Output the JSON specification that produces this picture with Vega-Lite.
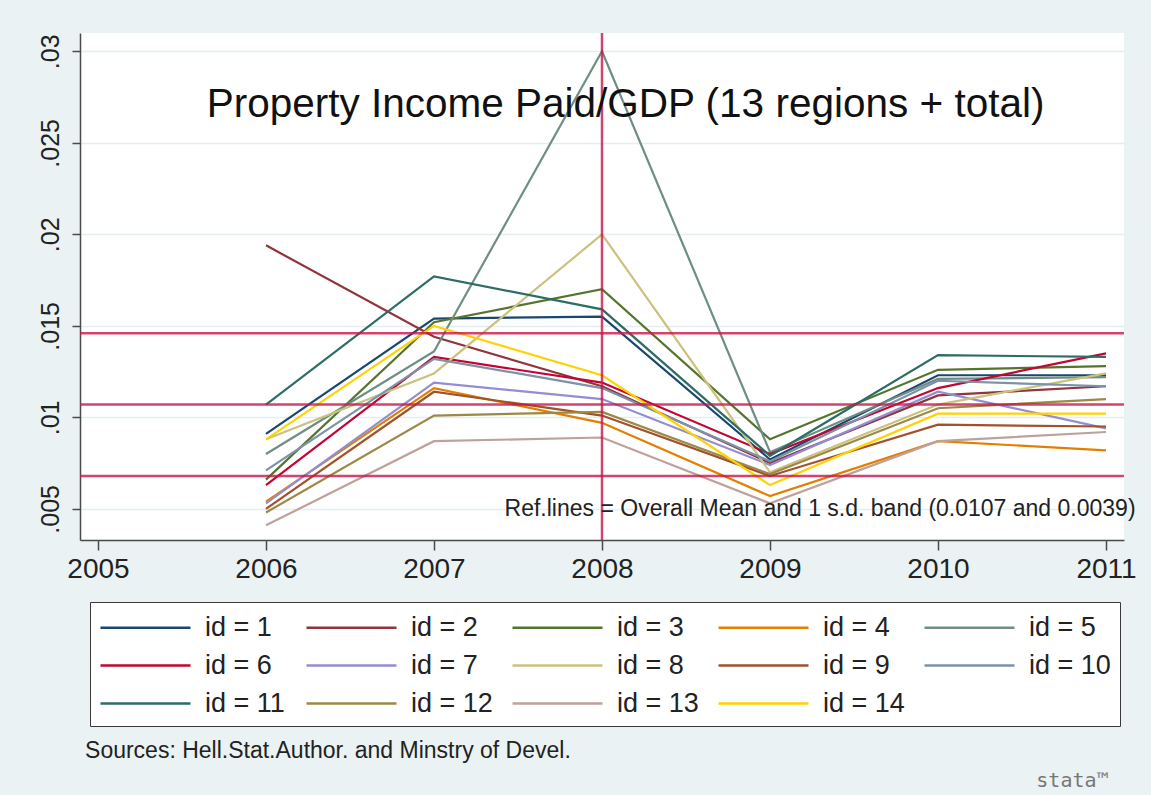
{
  "$schema": "https://vega.github.io/schema/vega-lite/v6.json",
  "width": 1044,
  "height": 507,
  "autosize": {"type": "none"},
  "padding": {"left": 80, "top": 33, "right": 27, "bottom": 255},
  "background": "#eaf2f3",
  "config": {
    "view": {"fill": "white", "stroke": null},
    "font": "Liberation Sans"
  },
  "datasets": {
    "series": [
      {"region": "id = 1", "year": 2006, "v": 0.0091}, {"region": "id = 1", "year": 2007, "v": 0.0154}, {"region": "id = 1", "year": 2008, "v": 0.0155}, {"region": "id = 1", "year": 2009, "v": 0.0077}, {"region": "id = 1", "year": 2010, "v": 0.0123}, {"region": "id = 1", "year": 2011, "v": 0.0123},
      {"region": "id = 2", "year": 2006, "v": 0.0194}, {"region": "id = 2", "year": 2007, "v": 0.0144}, {"region": "id = 2", "year": 2008, "v": 0.0117}, {"region": "id = 2", "year": 2009, "v": 0.0075}, {"region": "id = 2", "year": 2010, "v": 0.0112}, {"region": "id = 2", "year": 2011, "v": 0.0117},
      {"region": "id = 3", "year": 2006, "v": 0.0066}, {"region": "id = 3", "year": 2007, "v": 0.0152}, {"region": "id = 3", "year": 2008, "v": 0.0170}, {"region": "id = 3", "year": 2009, "v": 0.0088}, {"region": "id = 3", "year": 2010, "v": 0.0126}, {"region": "id = 3", "year": 2011, "v": 0.0128},
      {"region": "id = 4", "year": 2006, "v": 0.0054}, {"region": "id = 4", "year": 2007, "v": 0.0116}, {"region": "id = 4", "year": 2008, "v": 0.0097}, {"region": "id = 4", "year": 2009, "v": 0.0057}, {"region": "id = 4", "year": 2010, "v": 0.0087}, {"region": "id = 4", "year": 2011, "v": 0.0082},
      {"region": "id = 5", "year": 2006, "v": 0.0080}, {"region": "id = 5", "year": 2007, "v": 0.0136}, {"region": "id = 5", "year": 2008, "v": 0.0300}, {"region": "id = 5", "year": 2009, "v": 0.0081}, {"region": "id = 5", "year": 2010, "v": 0.0121}, {"region": "id = 5", "year": 2011, "v": 0.0122},
      {"region": "id = 6", "year": 2006, "v": 0.0063}, {"region": "id = 6", "year": 2007, "v": 0.0133}, {"region": "id = 6", "year": 2008, "v": 0.0119}, {"region": "id = 6", "year": 2009, "v": 0.0080}, {"region": "id = 6", "year": 2010, "v": 0.0116}, {"region": "id = 6", "year": 2011, "v": 0.0135},
      {"region": "id = 7", "year": 2006, "v": 0.0053}, {"region": "id = 7", "year": 2007, "v": 0.0119}, {"region": "id = 7", "year": 2008, "v": 0.0110}, {"region": "id = 7", "year": 2009, "v": 0.0074}, {"region": "id = 7", "year": 2010, "v": 0.0114}, {"region": "id = 7", "year": 2011, "v": 0.0094},
      {"region": "id = 8", "year": 2006, "v": 0.0088}, {"region": "id = 8", "year": 2007, "v": 0.0124}, {"region": "id = 8", "year": 2008, "v": 0.0200}, {"region": "id = 8", "year": 2009, "v": 0.0070}, {"region": "id = 8", "year": 2010, "v": 0.0107}, {"region": "id = 8", "year": 2011, "v": 0.0124},
      {"region": "id = 9", "year": 2006, "v": 0.0050}, {"region": "id = 9", "year": 2007, "v": 0.0114}, {"region": "id = 9", "year": 2008, "v": 0.0101}, {"region": "id = 9", "year": 2009, "v": 0.0068}, {"region": "id = 9", "year": 2010, "v": 0.0096}, {"region": "id = 9", "year": 2011, "v": 0.0095},
      {"region": "id = 10", "year": 2006, "v": 0.0071}, {"region": "id = 10", "year": 2007, "v": 0.0132}, {"region": "id = 10", "year": 2008, "v": 0.0116}, {"region": "id = 10", "year": 2009, "v": 0.0076}, {"region": "id = 10", "year": 2010, "v": 0.0120}, {"region": "id = 10", "year": 2011, "v": 0.0117},
      {"region": "id = 11", "year": 2006, "v": 0.0107}, {"region": "id = 11", "year": 2007, "v": 0.0177}, {"region": "id = 11", "year": 2008, "v": 0.0159}, {"region": "id = 11", "year": 2009, "v": 0.0079}, {"region": "id = 11", "year": 2010, "v": 0.0134}, {"region": "id = 11", "year": 2011, "v": 0.0133},
      {"region": "id = 12", "year": 2006, "v": 0.0048}, {"region": "id = 12", "year": 2007, "v": 0.0101}, {"region": "id = 12", "year": 2008, "v": 0.0103}, {"region": "id = 12", "year": 2009, "v": 0.0069}, {"region": "id = 12", "year": 2010, "v": 0.0105}, {"region": "id = 12", "year": 2011, "v": 0.0110},
      {"region": "id = 13", "year": 2006, "v": 0.0041}, {"region": "id = 13", "year": 2007, "v": 0.0087}, {"region": "id = 13", "year": 2008, "v": 0.0089}, {"region": "id = 13", "year": 2009, "v": 0.0053}, {"region": "id = 13", "year": 2010, "v": 0.0087}, {"region": "id = 13", "year": 2011, "v": 0.0092},
      {"region": "id = 14", "year": 2006, "v": 0.0088}, {"region": "id = 14", "year": 2007, "v": 0.0150}, {"region": "id = 14", "year": 2008, "v": 0.0123}, {"region": "id = 14", "year": 2009, "v": 0.0063}, {"region": "id = 14", "year": 2010, "v": 0.0102}, {"region": "id = 14", "year": 2011, "v": 0.0102}
    ],
    "hrefs": [{"ref": 0.0146}, {"ref": 0.0107}, {"ref": 0.0068}],
    "vrefs": [{"year": 2008}]
  },
  "layer": [
    {
      "data": {"name": "series"},
      "mark": {"type": "line", "strokeWidth": 2.2, "clip": false},
      "encoding": {
        "x": {
          "field": "year", "type": "quantitative",
          "scale": {"domain": [2004.893, 2011.107], "nice": false, "zero": false},
          "axis": {
            "title": null, "values": [2005, 2006, 2007, 2008, 2009, 2010, 2011], "format": "d",
            "grid": false, "domainColor": "#4a4a4a", "domainWidth": 1.5,
            "tickColor": "#4a4a4a", "tickWidth": 1.5, "tickSize": 10,
            "labelFontSize": 28, "labelColor": "#222", "labelPadding": 5, "labelFont": "Liberation Sans"
          }
        },
        "y": {
          "field": "v", "type": "quantitative",
          "scale": {"domain": [0.0033, 0.0310], "nice": false, "zero": false},
          "axis": {
            "title": null, "values": [0.005, 0.01, 0.015, 0.02, 0.025, 0.03],
            "labelExpr": "slice(format(datum.value, '.3~f'), 1)",
            "grid": true, "gridColor": "#e4eef0", "gridWidth": 1.5,
            "domainColor": "#4a4a4a", "domainWidth": 1.5,
            "tickColor": "#4a4a4a", "tickWidth": 1.5, "tickSize": 8,
            "labelAngle": -90, "labelAlign": "center", "labelBaseline": "bottom",
            "labelFontSize": 25, "labelColor": "#222", "labelPadding": 9, "labelFont": "Liberation Sans"
          }
        },
        "color": {
          "field": "region", "type": "nominal",
          "scale": {
            "domain": ["id = 1", "id = 2", "id = 3", "id = 4", "id = 5", "id = 6", "id = 7", "id = 8", "id = 9", "id = 10", "id = 11", "id = 12", "id = 13", "id = 14"],
            "range": ["#1a476f", "#90353b", "#55752f", "#e37e00", "#6e8e84", "#c10534", "#938dd2", "#cac27e", "#a0522d", "#7b92a8", "#2d6d66", "#9c8847", "#bfa19c", "#ffd200"]
          },
          "legend": {
            "title": null, "orient": "none", "legendX": 10, "legendY": 569,
            "columns": 5, "direction": "horizontal",
            "symbolType": "M-1,0H5", "symbolSize": 900, "symbolStrokeWidth": 2.5,
            "labelFontSize": 27, "labelFont": "Liberation Sans", "labelColor": "#222", "labelOffset": 73,
            "columnPadding": 14, "rowPadding": 8, "padding": 9, "gridAlign": "all",
            "fillColor": "white", "strokeColor": "#3a3a3a"
          }
        }
      }
    },
    {
      "data": {"name": "hrefs"},
      "mark": {"type": "rule", "color": "#c8154a", "strokeWidth": 2.5, "opacity": 0.8},
      "encoding": {"y": {"field": "ref", "type": "quantitative"}}
    },
    {
      "data": {"name": "vrefs"},
      "mark": {"type": "rule", "color": "#c8154a", "strokeWidth": 2.5, "opacity": 0.8},
      "encoding": {"x": {"field": "year", "type": "quantitative"}}
    },
    {
      "data": {"values": [{"label": "Property Income Paid/GDP (13 regions + total)"}]},
      "mark": {"type": "text", "fontSize": 40.5, "font": "Liberation Sans", "color": "#111", "align": "center", "baseline": "middle"},
      "encoding": {"x": {"datum": 2008.14}, "y": {"datum": 0.02705}, "text": {"field": "label"}}
    },
    {
      "data": {"values": [{"label": "Ref.lines = Overall Mean and 1 s.d. band (0.0107 and 0.0039)"}]},
      "mark": {"type": "text", "fontSize": 23, "font": "Liberation Sans", "color": "#222", "align": "left", "baseline": "middle"},
      "encoding": {"x": {"datum": 2007.42}, "y": {"datum": 0.00497}, "text": {"field": "label"}}
    },
    {
      "data": {"values": [{"label": "Sources: Hell.Stat.Author. and Minstry of Devel."}]},
      "mark": {"type": "text", "fontSize": 23, "font": "Liberation Sans", "color": "#222", "align": "left", "baseline": "middle"},
      "encoding": {"x": {"datum": 2004.923}, "y": {"datum": -0.00825}, "text": {"field": "label"}}
    },
    {
      "data": {"values": [{"label": "stata™"}]},
      "mark": {"type": "text", "fontSize": 20, "font": "DejaVu Sans Mono", "color": "#777", "align": "center", "baseline": "middle"},
      "encoding": {"x": {"datum": 2010.80}, "y": {"datum": -0.00985}, "text": {"field": "label"}}
    }
  ]
}
